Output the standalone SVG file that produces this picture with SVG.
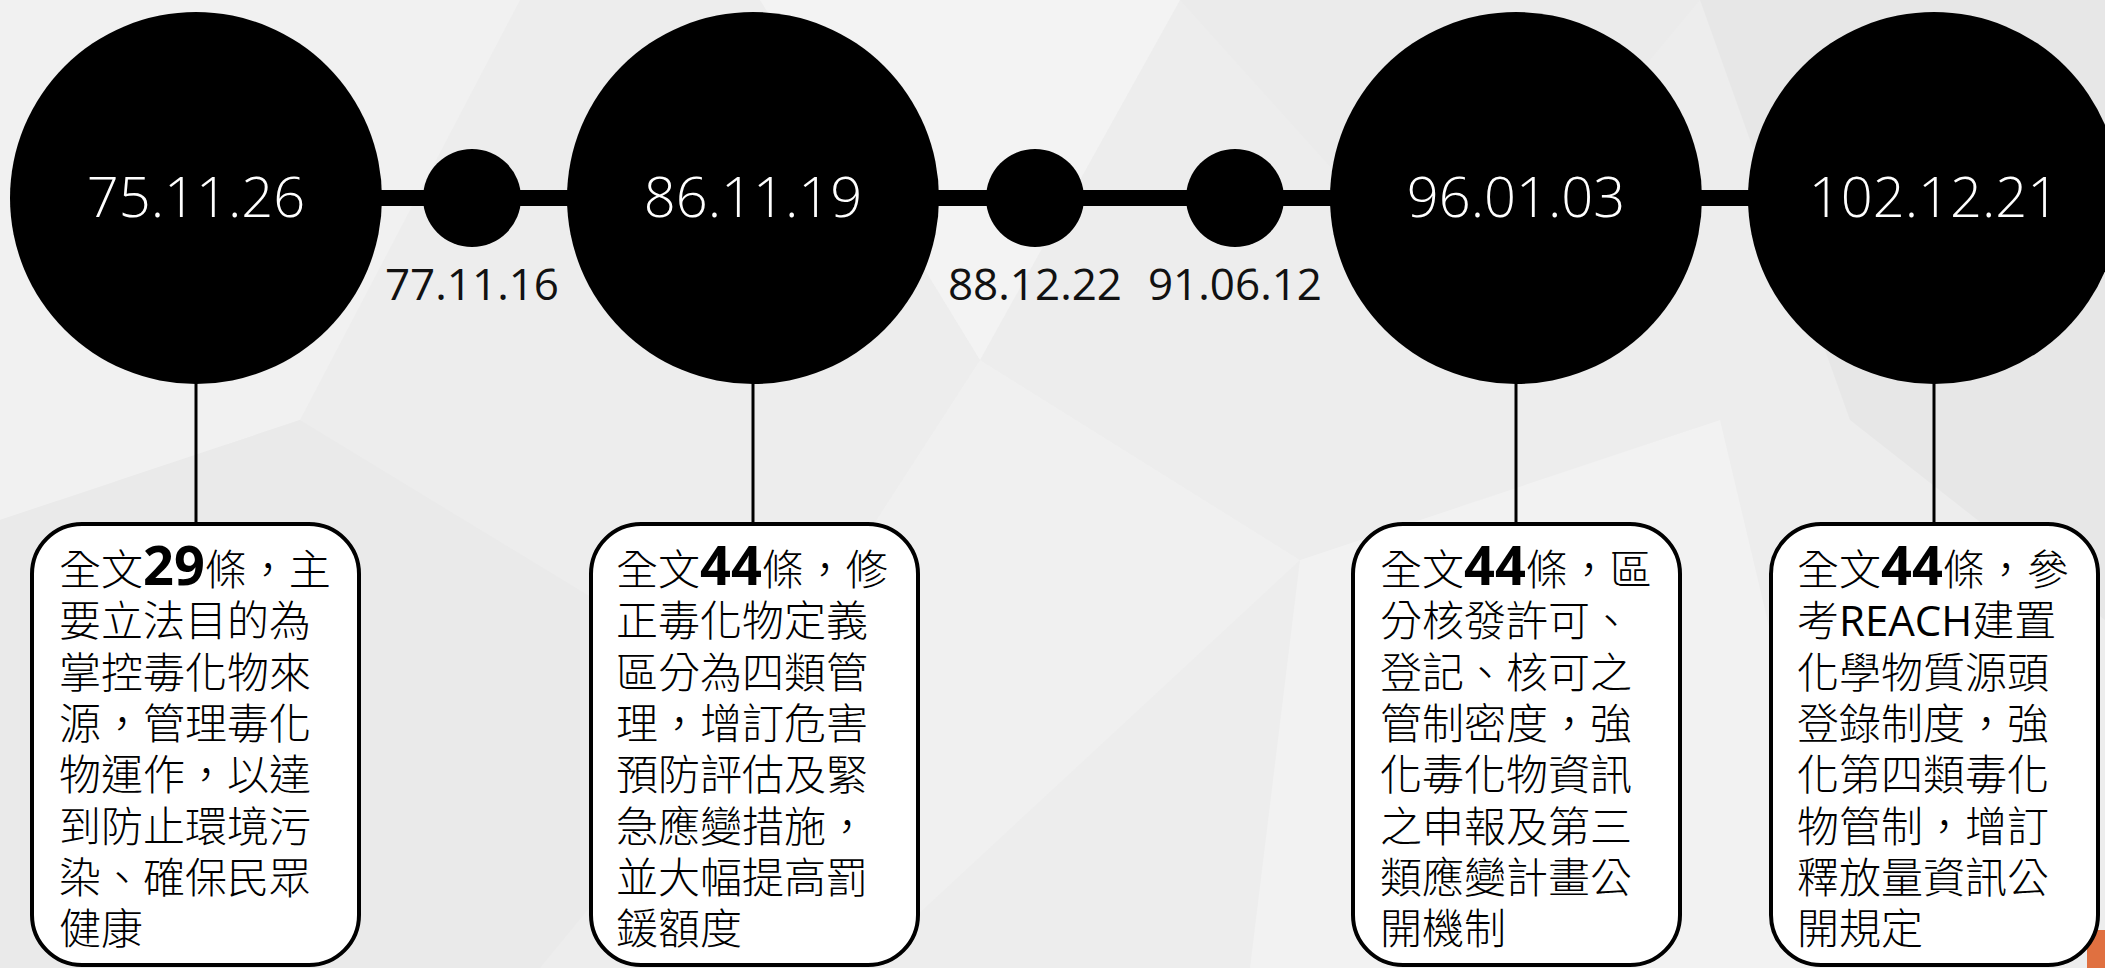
<svg xmlns="http://www.w3.org/2000/svg" width="2105" height="968" viewBox="0 0 2105 968">
<defs>
<style>
.big{fill:#000}
.date{font-family:"Open Sans","Liberation Sans",sans-serif;font-size:56px;font-weight:300;fill:#fff;text-anchor:middle}
.sdate{font-family:"Open Sans","Liberation Sans",sans-serif;font-size:44px;font-weight:400;fill:#111;text-anchor:middle}
.box{fill:#fff;stroke:#000;stroke-width:4}
.txt{font-family:"Noto Sans CJK TC","Noto Sans CJK SC",sans-serif;font-size:42px;font-weight:300;fill:#000}
.num{font-family:"Open Sans","Liberation Sans",sans-serif;font-size:54px;font-weight:700}
.lat{font-family:"Open Sans","Liberation Sans",sans-serif;font-weight:400}
.bar{stroke:#000;stroke-width:16}
.stem{stroke:#000;stroke-width:3}
</style>
</defs>
<g id="background">
<rect x="0" y="0" width="2105" height="968" fill="#ededed"/>
<polygon points="0,0 520,0 300,420 0,520" fill="#f1f1f1"/>
<polygon points="760,0 1180,0 980,360" fill="#f3f3f3"/>
<polygon points="980,360 1300,560 860,968 760,700" fill="#f0f0f0"/>
<polygon points="1180,0 1700,0 1450,300" fill="#ebebeb"/>
<polygon points="1700,0 2105,0 2105,620 1850,420" fill="#e7e7e7"/>
<polygon points="1300,560 1720,420 1850,968 1250,968" fill="#f2f2f2"/>
<polygon points="300,420 760,700 540,968 0,968 0,520" fill="#eaeaea"/>
<rect x="2087" y="930" width="18" height="38" fill="#e07040"/>
</g>
<g id="connectors">
<line class="bar" x1="196" y1="198" x2="1934" y2="198"/>
<line class="stem" x1="196" y1="380" x2="196" y2="526"/>
<line class="stem" x1="753" y1="380" x2="753" y2="526"/>
<line class="stem" x1="1516" y1="380" x2="1516" y2="526"/>
<line class="stem" x1="1934" y1="380" x2="1934" y2="526"/>
</g>
<g id="node-751126">
<circle class="big" cx="196" cy="198" r="186"/>
<text class="date" x="196" y="217">75.11.26</text>
</g>
<g id="node-771116">
<circle class="big" cx="472" cy="198" r="49"/>
<text class="sdate" x="472" y="300">77.11.16</text>
</g>
<g id="node-861119">
<circle class="big" cx="753" cy="198" r="186"/>
<text class="date" x="753" y="217">86.11.19</text>
</g>
<g id="node-881222">
<circle class="big" cx="1035" cy="198" r="49"/>
<text class="sdate" x="1035" y="300">88.12.22</text>
</g>
<g id="node-910612">
<circle class="big" cx="1235" cy="198" r="49"/>
<text class="sdate" x="1235" y="300">91.06.12</text>
</g>
<g id="node-960103">
<circle class="big" cx="1516" cy="198" r="186"/>
<text class="date" x="1516" y="217">96.01.03</text>
</g>
<g id="node-1021221">
<circle class="big" cx="1934" cy="198" r="186"/>
<text class="date" x="1934" y="217">102.12.21</text>
</g>
<g id="box-1">
<rect class="box" x="32" y="524" width="327" height="441" rx="50" ry="50"/>
<text class="txt" x="59" y="585">全文<tspan class="num">29</tspan>條，主</text>
<text class="txt" x="59" y="636">要立法目的為</text>
<text class="txt" x="59" y="688">掌控毒化物來</text>
<text class="txt" x="59" y="739">源，管理毒化</text>
<text class="txt" x="59" y="790">物運作，以達</text>
<text class="txt" x="59" y="842">到防止環境污</text>
<text class="txt" x="59" y="893">染、確保民眾</text>
<text class="txt" x="59" y="944">健康</text>
</g>
<g id="box-2">
<rect class="box" x="591" y="524" width="327" height="441" rx="50" ry="50"/>
<text class="txt" x="616" y="585">全文<tspan class="num">44</tspan>條，修</text>
<text class="txt" x="616" y="636">正毒化物定義</text>
<text class="txt" x="616" y="688">區分為四類管</text>
<text class="txt" x="616" y="739">理，增訂危害</text>
<text class="txt" x="616" y="790">預防評估及緊</text>
<text class="txt" x="616" y="842">急應變措施，</text>
<text class="txt" x="616" y="893">並大幅提高罰</text>
<text class="txt" x="616" y="944">鍰額度</text>
</g>
<g id="box-3">
<rect class="box" x="1353" y="524" width="327" height="441" rx="50" ry="50"/>
<text class="txt" x="1380" y="585">全文<tspan class="num">44</tspan>條，區</text>
<text class="txt" x="1380" y="636">分核發許可、</text>
<text class="txt" x="1380" y="688">登記、核可之</text>
<text class="txt" x="1380" y="739">管制密度，強</text>
<text class="txt" x="1380" y="790">化毒化物資訊</text>
<text class="txt" x="1380" y="842">之申報及第三</text>
<text class="txt" x="1380" y="893">類應變計畫公</text>
<text class="txt" x="1380" y="944">開機制</text>
</g>
<g id="box-4">
<rect class="box" x="1771" y="524" width="327" height="441" rx="50" ry="50"/>
<text class="txt" x="1797" y="585">全文<tspan class="num">44</tspan>條，參</text>
<text class="txt" x="1797" y="636">考<tspan class="lat">REACH</tspan>建置</text>
<text class="txt" x="1797" y="688">化學物質源頭</text>
<text class="txt" x="1797" y="739">登錄制度，強</text>
<text class="txt" x="1797" y="790">化第四類毒化</text>
<text class="txt" x="1797" y="842">物管制，增訂</text>
<text class="txt" x="1797" y="893">釋放量資訊公</text>
<text class="txt" x="1797" y="944">開規定</text>
</g>
</svg>
